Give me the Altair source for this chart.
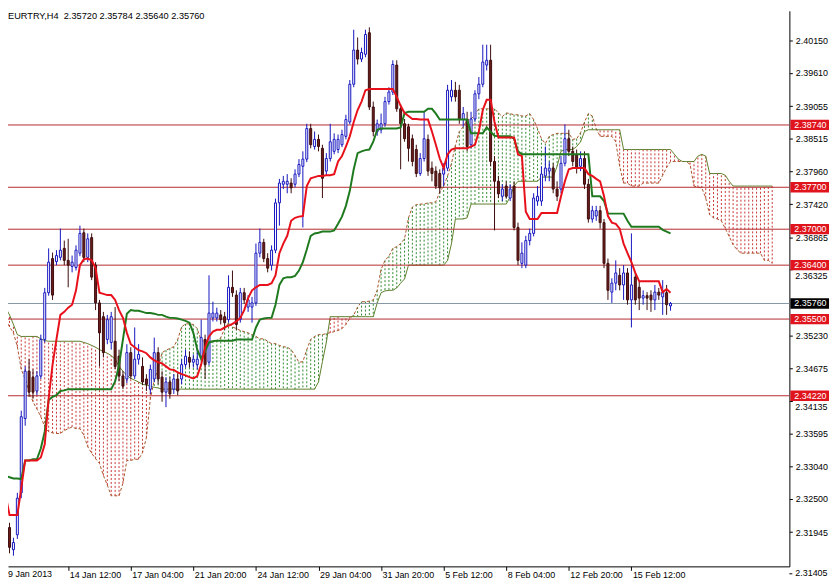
import altair as alt
import pandas as pd

# ---------------- data (EURTRY, H4) ----------------
bar_open = [
    2.3223, 2.3202, 2.3165, 2.3190, 2.3260, 2.3384, 2.3463, 2.3453, 2.3430, 2.3455,
    2.3516, 2.3594, 2.3651, 2.3646, 2.3653, 2.3668, 2.3648, 2.3638, 2.3636, 2.3660,
    2.3694, 2.3653, 2.3686, 2.3640, 2.3577, 2.3554, 2.3516, 2.3511, 2.3513, 2.3488,
    2.3455, 2.3450, 2.3494, 2.3455, 2.3483, 2.3471, 2.3450, 2.3433, 2.3450, 2.3494,
    2.3453, 2.3428, 2.3445, 2.3433, 2.3450, 2.3450, 2.3474, 2.3486, 2.3478, 2.3474,
    2.3488, 2.3516, 2.3478, 2.3552, 2.3552, 2.3557, 2.3554, 2.3549, 2.3603, 2.3590,
    2.3549, 2.3594, 2.3570, 2.3570, 2.3577, 2.3660, 2.3678, 2.3651, 2.3640, 2.3665,
    2.3744, 2.3775, 2.3775, 2.3777, 2.3775, 2.3792, 2.3805, 2.3817, 2.3868, 2.3838,
    2.3850, 2.3835, 2.3797, 2.3818, 2.3830, 2.3833, 2.3841, 2.3855, 2.3879, 2.3942,
    2.3999, 2.3984, 2.3992, 2.4028, 2.3904, 2.3863, 2.3866, 2.3876, 2.3913, 2.3929,
    2.3974, 2.3901, 2.3876, 2.3871, 2.3851, 2.3833, 2.3793, 2.3818, 2.3850, 2.3802,
    2.3797, 2.3793, 2.3792, 2.3802, 2.3921, 2.3932, 2.3932, 2.3883, 2.3883, 2.3841,
    2.3884, 2.3926, 2.3942, 2.3974, 2.3982, 2.3813, 2.3780, 2.3755, 2.3772, 2.3752,
    2.3772, 2.3703, 2.3643, 2.3640, 2.3681, 2.3693, 2.3747, 2.3747, 2.3789, 2.3797,
    2.3802, 2.3767, 2.3767, 2.3810, 2.3851, 2.3830, 2.3825, 2.3805, 2.3818, 2.3775,
    2.3717, 2.3722, 2.3731, 2.3711, 2.3643, 2.3595, 2.3610, 2.3623, 2.3607, 2.3627,
    2.3582, 2.3620, 2.3603, 2.3585, 2.3589, 2.3590, 2.3582, 2.3595, 2.3587, 2.3594,
    2.3572,
]
bar_high = [
    2.3235, 2.3210, 2.3185, 2.3260, 2.3397, 2.3471, 2.3483, 2.3466, 2.3463, 2.3524,
    2.3602, 2.3668, 2.3661, 2.3665, 2.3701, 2.3681, 2.3684, 2.3656, 2.3673, 2.3706,
    2.3701, 2.3693, 2.3693, 2.3645, 2.3582, 2.3562, 2.3557, 2.3562, 2.3570, 2.3499,
    2.3463, 2.3508, 2.3503, 2.3536, 2.3508, 2.3486, 2.3458, 2.3474, 2.3519, 2.3503,
    2.3463, 2.3453, 2.3453, 2.3458, 2.3461, 2.3483, 2.3499, 2.3496, 2.3491, 2.3499,
    2.3549, 2.3524, 2.3623, 2.3579, 2.3569, 2.3565, 2.3562, 2.3623, 2.3631, 2.3598,
    2.3602, 2.3602, 2.3590, 2.3587, 2.3676, 2.3701, 2.3684, 2.3660, 2.3673, 2.3751,
    2.3784, 2.3789, 2.3792, 2.3785, 2.3800, 2.3817, 2.3830, 2.3876, 2.3876, 2.3863,
    2.3858, 2.3841, 2.3827, 2.3876, 2.3860, 2.3858, 2.3866, 2.3891, 2.3949, 2.4033,
    2.4020, 2.4003, 2.4033, 2.4037, 2.3913, 2.3883, 2.3893, 2.3921, 2.3937, 2.3982,
    2.3982, 2.3909, 2.3884, 2.3876, 2.3858, 2.3841, 2.3827, 2.3896, 2.3858, 2.3813,
    2.3805, 2.3800, 2.3810, 2.3941, 2.3949, 2.3946, 2.3941, 2.3904, 2.3896, 2.3896,
    2.3932, 2.3954, 2.4008, 2.4008, 2.4008, 2.3822, 2.3789, 2.3775, 2.3780, 2.3775,
    2.3780, 2.3711, 2.3678, 2.3689, 2.3701, 2.3760, 2.3772, 2.3805, 2.3838, 2.3813,
    2.3810, 2.3780, 2.3822, 2.3875, 2.3866, 2.3838, 2.3833, 2.3830, 2.3830, 2.3784,
    2.3739, 2.3739, 2.3739, 2.3717, 2.3651, 2.3618, 2.3648, 2.3635, 2.3640, 2.3635,
    2.3693, 2.3628, 2.3612, 2.3598, 2.3595, 2.3598, 2.3607, 2.3602, 2.3615, 2.3607,
    2.35784,
]
bar_low = [
    2.3177, 2.3159, 2.3155, 2.3183, 2.3251, 2.3372, 2.3420, 2.3417, 2.3423, 2.3450,
    2.3511, 2.3589, 2.3582, 2.3640, 2.3648, 2.3640, 2.3603, 2.3628, 2.3631, 2.3655,
    2.3645, 2.3645, 2.3615, 2.3565, 2.3471, 2.3486, 2.3508, 2.3499, 2.3466, 2.3446,
    2.3433, 2.3443, 2.3450, 2.3450, 2.3474, 2.3440, 2.3430, 2.3425, 2.3445, 2.3441,
    2.3412, 2.3403, 2.3417, 2.3425, 2.3423, 2.3441, 2.3469, 2.3469, 2.3469, 2.3466,
    2.3483, 2.3450, 2.3473, 2.3546, 2.3546, 2.3541, 2.3532, 2.3544, 2.3587, 2.3532,
    2.3544, 2.3575, 2.3562, 2.3544, 2.3572, 2.3653, 2.3645, 2.3628, 2.3631, 2.3660,
    2.3706, 2.3767, 2.3760, 2.3760, 2.3770, 2.3787, 2.3703, 2.3812, 2.3835, 2.3833,
    2.3830, 2.3752, 2.3789, 2.3813, 2.3825, 2.3827, 2.3837, 2.3850, 2.3875, 2.3937,
    2.3975, 2.3979, 2.3987, 2.3899, 2.3855, 2.3856, 2.3860, 2.3871, 2.3908, 2.3924,
    2.3896, 2.3800, 2.3846, 2.3813, 2.3805, 2.3787, 2.3789, 2.3813, 2.3789, 2.3780,
    2.3767, 2.3760, 2.3772, 2.3797, 2.3913, 2.3913, 2.3876, 2.3871, 2.3830, 2.3835,
    2.3879, 2.3917, 2.3937, 2.3965, 2.3805, 2.3698, 2.3752, 2.3747, 2.3751, 2.3747,
    2.3698, 2.3640, 2.3635, 2.3635, 2.3673, 2.3688, 2.3739, 2.3739, 2.3780, 2.3780,
    2.3760, 2.3747, 2.3760, 2.3805, 2.3822, 2.3805, 2.3793, 2.3797, 2.3767, 2.3711,
    2.3711, 2.3714, 2.3701, 2.3635, 2.3582, 2.3577, 2.3598, 2.3598, 2.3582, 2.3574,
    2.3536, 2.3574, 2.3565, 2.3574, 2.3565, 2.3562, 2.3565, 2.3582, 2.3557, 2.3557,
    2.3564,
]
bar_close = [
    2.3185, 2.3169, 2.3177, 2.3251, 2.3387, 2.3463, 2.3428, 2.3428, 2.3455, 2.3516,
    2.3594, 2.3645, 2.3590, 2.3656, 2.3665, 2.3648, 2.3640, 2.3645, 2.3665, 2.3693,
    2.3653, 2.3684, 2.3620, 2.3577, 2.3527, 2.3494, 2.3549, 2.3554, 2.3471, 2.3455,
    2.3438, 2.3494, 2.3455, 2.3483, 2.3491, 2.3445, 2.3441, 2.3466, 2.3494, 2.3450,
    2.3428, 2.3445, 2.3425, 2.3450, 2.3430, 2.3474, 2.3488, 2.3478, 2.3483, 2.3483,
    2.3519, 2.3474, 2.3560, 2.3560, 2.3560, 2.3549, 2.3544, 2.3603, 2.3594, 2.3541,
    2.3594, 2.3582, 2.3582, 2.3577, 2.3660, 2.3678, 2.3651, 2.3635, 2.3665, 2.3744,
    2.3777, 2.3780, 2.3780, 2.3769, 2.3792, 2.3808, 2.3817, 2.3868, 2.3841, 2.3850,
    2.3838, 2.3785, 2.3818, 2.3846, 2.3850, 2.3850, 2.3858, 2.3883, 2.3942, 2.3999,
    2.3984, 2.3995, 2.4025, 2.3904, 2.3863, 2.3876, 2.3876, 2.3913, 2.3929, 2.3975,
    2.3901, 2.3876, 2.3851, 2.3835, 2.3813, 2.3793, 2.3818, 2.3851, 2.3797, 2.3793,
    2.3772, 2.3769, 2.3802, 2.3932, 2.3932, 2.3921, 2.3883, 2.3893, 2.3838, 2.3884,
    2.3926, 2.3942, 2.3979, 2.3982, 2.3813, 2.3780, 2.3759, 2.3767, 2.3755, 2.3767,
    2.3703, 2.3648, 2.3660, 2.3681, 2.3693, 2.3752, 2.3755, 2.3792, 2.3802, 2.3802,
    2.3767, 2.3755, 2.3810, 2.3851, 2.3830, 2.3813, 2.3802, 2.3818, 2.3775, 2.3717,
    2.3731, 2.3731, 2.3711, 2.3643, 2.3598, 2.3610, 2.3627, 2.3607, 2.3627, 2.3582,
    2.3607, 2.3582, 2.3585, 2.3589, 2.3585, 2.3582, 2.3595, 2.3590, 2.3595, 2.3574,
    2.3576,
]
tenkan = [
    2.3256, 2.3223, 2.3223, 2.3223, 2.3268, 2.3314, 2.3314, 2.3314, 2.3314, 2.3319,
    2.3341, 2.3417, 2.3474, 2.3516, 2.3557, 2.3562, 2.3569, 2.3574, 2.3598, 2.3640,
    2.3650, 2.3651, 2.3648, 2.3635, 2.3594, 2.3592, 2.3590, 2.3590, 2.3582, 2.3565,
    2.3552, 2.3527, 2.3508, 2.3503, 2.3498, 2.3496, 2.3493, 2.3486, 2.3481, 2.3478,
    2.3476, 2.3471, 2.3466, 2.3465, 2.3461, 2.3458, 2.3456, 2.3453, 2.3451, 2.3455,
    2.3474, 2.3503, 2.3521, 2.3529, 2.3532, 2.3532, 2.3536, 2.3539, 2.3542, 2.3546,
    2.3552, 2.3565, 2.3585, 2.3598, 2.3603, 2.3607, 2.3607, 2.3607, 2.3610, 2.3623,
    2.3660, 2.3676, 2.3689, 2.3714, 2.3719, 2.3721, 2.3722, 2.3772, 2.3785, 2.3787,
    2.3789, 2.3789, 2.3790, 2.3790, 2.3792, 2.3813, 2.3822, 2.3838, 2.3855, 2.3879,
    2.3899, 2.3913, 2.3932, 2.3934, 2.3934, 2.3934, 2.3934, 2.3934, 2.3934, 2.3934,
    2.3921, 2.3906, 2.3894, 2.3889, 2.3884, 2.3884, 2.3883, 2.3883, 2.3883, 2.3863,
    2.3841, 2.3818, 2.3802, 2.3825, 2.3833, 2.3835, 2.3835, 2.3835, 2.3835, 2.3838,
    2.3841, 2.3863, 2.3899, 2.3916, 2.3916, 2.3879, 2.3853, 2.3853, 2.3853, 2.3853,
    2.3853, 2.3825, 2.3822, 2.3729, 2.3717, 2.3717, 2.3717, 2.3727, 2.3727, 2.3727,
    2.3727, 2.3727, 2.3755, 2.3780, 2.3800, 2.3802, 2.3802, 2.3802, 2.3802, 2.3792,
    2.3789, 2.3784, 2.3780, 2.3755, 2.3722, 2.3711, 2.3709, 2.3701, 2.3676, 2.3660,
    2.3645, 2.3627, 2.3613, 2.3613, 2.3613, 2.3613, 2.3613, 2.3613, 2.3595, 2.3600,
    2.3594,
]
kijun = [
    2.3288, 2.3286, 2.3284, 2.3284, 2.3283, 2.3314, 2.3314, 2.3316, 2.3316, 2.3334,
    2.3362, 2.3415, 2.3420, 2.3423, 2.3430, 2.3431, 2.3433, 2.3433, 2.3433, 2.3433,
    2.3433, 2.3433, 2.3433, 2.3433, 2.3433, 2.3433, 2.3433, 2.3433, 2.3446, 2.3473,
    2.3516, 2.3559, 2.3565, 2.3564, 2.3564, 2.3562, 2.3560, 2.3560, 2.3559, 2.3557,
    2.3557, 2.3554, 2.3552, 2.3552, 2.3551, 2.3549, 2.3547, 2.3544, 2.3527, 2.3499,
    2.3483, 2.3496, 2.3511, 2.3513, 2.3514, 2.3514, 2.3514, 2.3514, 2.3514, 2.3516,
    2.3516, 2.3516, 2.3516, 2.3516, 2.3536, 2.3549, 2.3551, 2.3552, 2.3552, 2.3574,
    2.3607, 2.3618, 2.3620, 2.3620, 2.3622, 2.3631, 2.3645, 2.3666, 2.3689, 2.3693,
    2.3694, 2.3696, 2.3696, 2.3696, 2.3698, 2.3709, 2.3721, 2.3739, 2.3764, 2.3800,
    2.3827, 2.3830, 2.3832, 2.3833, 2.3846, 2.3866, 2.3868, 2.3868, 2.3868, 2.3868,
    2.3868, 2.3870, 2.3894, 2.3896, 2.3896, 2.3896, 2.3896, 2.3896, 2.3901, 2.3901,
    2.3893, 2.3883, 2.3883, 2.3883, 2.3883, 2.3883, 2.3883, 2.3883, 2.3883, 2.3860,
    2.3860, 2.3860, 2.3860, 2.3870, 2.3863, 2.3856, 2.3855, 2.3855, 2.3855, 2.3855,
    2.3851, 2.3830, 2.3825, 2.3825, 2.3825, 2.3825, 2.3825, 2.3825, 2.3825, 2.3825,
    2.3825, 2.3825, 2.3825, 2.3825, 2.3825, 2.3825, 2.3825, 2.3825, 2.3825, 2.3825,
    2.3755, 2.3755, 2.3755, 2.3747, 2.3726, 2.3726, 2.3726, 2.3726, 2.3726, 2.3714,
    2.3704, 2.3704, 2.3704, 2.3704, 2.3704, 2.3704, 2.3704, 2.3704, 2.3699, 2.3696,
    2.3693,
]
span_a = [
    2.3549, 2.3537, 2.3527, 2.3504, 2.3466, 2.3450, 2.3428, 2.3412, 2.3400, 2.3387,
    2.3370, 2.3362, 2.3360, 2.3359, 2.3359, 2.3364, 2.3367, 2.3370, 2.3367, 2.3367,
    2.3356, 2.3337, 2.3326, 2.3317, 2.3309, 2.3289, 2.3273, 2.3255, 2.3255, 2.3255,
    2.3276, 2.3314, 2.3314, 2.3316, 2.3316, 2.3327, 2.3352, 2.3417, 2.3448, 2.3469,
    2.3494, 2.3498, 2.3501, 2.3504, 2.3516, 2.3537, 2.3542, 2.3542, 2.3541, 2.3534,
    2.3514, 2.3513, 2.3513, 2.3513, 2.3514, 2.3519, 2.3534, 2.3544, 2.3537, 2.3534,
    2.3531, 2.3529, 2.3527, 2.3524, 2.3521, 2.3517, 2.3517, 2.3513, 2.3509, 2.3509,
    2.3506, 2.3504, 2.3503, 2.3499, 2.3489, 2.3478, 2.3479, 2.3499, 2.3516, 2.3521,
    2.3524, 2.3524, 2.3526, 2.3527, 2.3529, 2.3531, 2.3534, 2.3541, 2.3551, 2.3557,
    2.3570, 2.3579, 2.3579, 2.3580, 2.3582, 2.3598, 2.3633, 2.3648, 2.3655, 2.3668,
    2.3671, 2.3676, 2.3684, 2.3719, 2.3737, 2.3741, 2.3742, 2.3742, 2.3744, 2.3744,
    2.3746, 2.3762, 2.3772, 2.3789, 2.3810, 2.3840, 2.3863, 2.3871, 2.3883, 2.3884,
    2.3891, 2.3901, 2.3901, 2.3901, 2.3901, 2.3901, 2.3894, 2.3888, 2.3894, 2.3893,
    2.3891, 2.3891, 2.3889, 2.3889, 2.3893, 2.3883, 2.3868, 2.3851, 2.3843, 2.3855,
    2.3858, 2.3860, 2.3860, 2.3860, 2.3860, 2.3850, 2.3851, 2.3861, 2.3879, 2.3893,
    2.3889, 2.3868, 2.3855, 2.3855, 2.3855, 2.3855, 2.3846, 2.3805, 2.3777, 2.3777,
    2.3772, 2.3772, 2.3772, 2.3777, 2.3777, 2.3777, 2.3777, 2.3777, 2.3790, 2.3803,
    2.3813, 2.3813, 2.3813, 2.3813, 2.3813, 2.3808, 2.3772, 2.3770, 2.3769, 2.3752,
    2.3724, 2.3719, 2.3717, 2.3714, 2.3701, 2.3688, 2.3674, 2.3666, 2.3660, 2.3660,
    2.3660, 2.3660, 2.3660, 2.3660, 2.3648, 2.3648, 2.3643,
]
span_b = [
    2.3569, 2.3557, 2.3541, 2.3524, 2.3521, 2.3521, 2.3521, 2.3521, 2.3521, 2.3517,
    2.3514, 2.3513, 2.3513, 2.3513, 2.3513, 2.3513, 2.3513, 2.3513, 2.3513, 2.3513,
    2.3511, 2.3509, 2.3506, 2.3503, 2.3499, 2.3496, 2.3493, 2.3489, 2.3483, 2.3471,
    2.3463, 2.3456, 2.3451, 2.3448, 2.3445, 2.3441, 2.3440, 2.3438, 2.3436, 2.3435,
    2.3433, 2.3433, 2.3433, 2.3433, 2.3433, 2.3433, 2.3433, 2.3433, 2.3433, 2.3433,
    2.3433, 2.3433, 2.3433, 2.3433, 2.3433, 2.3433, 2.3433, 2.3433, 2.3433, 2.3433,
    2.3433, 2.3433, 2.3433, 2.3433, 2.3433, 2.3433, 2.3433, 2.3433, 2.3433, 2.3433,
    2.3433, 2.3433, 2.3433, 2.3433, 2.3433, 2.3433, 2.3433, 2.3433, 2.3433, 2.3433,
    2.3445, 2.3479, 2.3511, 2.3554, 2.3554, 2.3554, 2.3554, 2.3554, 2.3554, 2.3554,
    2.3554, 2.3554, 2.3554, 2.3554, 2.3554, 2.3577, 2.3594, 2.3597, 2.3598, 2.3598,
    2.3602, 2.3610, 2.3617, 2.3640, 2.3640, 2.3640, 2.3640, 2.3640, 2.3640, 2.3640,
    2.3640, 2.3640, 2.3640, 2.3648, 2.3676, 2.3717, 2.3717, 2.3717, 2.3719, 2.3742,
    2.3742, 2.3742, 2.3742, 2.3742, 2.3742, 2.3742, 2.3742, 2.3742, 2.3742, 2.3754,
    2.3772, 2.3780, 2.3780, 2.3780, 2.3780, 2.3780, 2.3780, 2.3787, 2.3787, 2.3787,
    2.3787, 2.3805, 2.3830, 2.3833, 2.3833, 2.3833, 2.3838, 2.3846, 2.3863, 2.3866,
    2.3866, 2.3866, 2.3866, 2.3866, 2.3866, 2.3866, 2.3866, 2.3866, 2.3833, 2.3833,
    2.3833, 2.3833, 2.3833, 2.3833, 2.3833, 2.3833, 2.3833, 2.3833, 2.3833, 2.3833,
    2.3833, 2.3825, 2.3817, 2.3813, 2.3813, 2.3813, 2.3813, 2.3822, 2.3825, 2.3822,
    2.3793, 2.3793, 2.3793, 2.3793, 2.3790, 2.3780, 2.3772, 2.3772, 2.3772, 2.3772,
    2.3772, 2.3772, 2.3772, 2.3772, 2.3772, 2.3772, 2.3772,
]

level_prices = [2.38740, 2.37700, 2.37000, 2.36400, 2.35500, 2.34220]
current_price = 2.35760
price_ticks = [2.40150, 2.39610, 2.39055, 2.38515, 2.37960, 2.37420, 2.36865,
               2.36325, 2.35230, 2.34675, 2.34135, 2.33595, 2.33040,
               2.32500, 2.31945]
tucked_ticks = [2.36325, 2.34135]          # labels sitting right under a level box
bottom_price_label = "2.31405"
time_tick_bars = [16, 32, 48, 64, 80, 96, 112, 128, 144, 160]
time_tick_text = ["14 Jan 12:00", "17 Jan 04:00", "21 Jan 20:00", "24 Jan 12:00",
                  "29 Jan 04:00", "31 Jan 20:00", "5 Feb 12:00", "8 Feb 04:00",
                  "12 Feb 20:00", "15 Feb 12:00"]
first_time_label = "9 Jan 2013"
header_text = "EURTRY,H4\u00a0 2.35720 2.35784 2.35640 2.35760"

# ---------------- styling ----------------
FONT = "Liberation Sans"
W, H = 789, 561
UP = "#1414c0"
DOWN_FILL = "#6e1d1d"
DOWN_EDGE = "#3d0c0c"
TENKAN_C = "#e8101a"
KIJUN_C = "#1f7a1f"
HATCH_RED = "#c83434"
HATCH_GREEN = "#2f8a2f"
SPAN_A_C = "#a8552a"
SPAN_B_C = "#5f7f2a"
LEVEL_C = "#b42a2f"
LABEL_RED = "#e0141c"

candles = pd.DataFrame({"bar": list(range(len(bar_close))), "open": bar_open,
                        "high": bar_high, "low": bar_low, "close": bar_close})
lines = pd.DataFrame({"bar": list(range(len(tenkan))), "tenkan": tenkan, "kijun": kijun})
cloud = pd.DataFrame({"bar": list(range(len(span_a))), "a": span_a, "b": span_b})
levels = pd.DataFrame({"price": level_prices})
boxes = pd.DataFrame({"price": level_prices + [current_price],
                      "kind": ["level"] * len(level_prices) + ["current"]})
boxes["label"] = boxes["price"].map(lambda v: f"{v:.5f}")
tucked = pd.DataFrame({"price": tucked_ticks})
tucked["label"] = tucked["price"].map(lambda v: f"{v:.5f}")

xs = alt.Scale(domain=[1.875, 199.125], nice=False, zero=False)
ys = alt.Scale(domain=[2.313719, 2.406461], nice=False, zero=False)

label_expr = "''"
for v, t in reversed(list(zip(time_tick_bars, time_tick_text))):
    label_expr = f"datum.value == {v} ? '{t}' : ({label_expr})"

hide_expr = " || ".join(f"abs(datum.value - {v}) < 0.000001" for v in tucked_ticks)
y_label_expr = f"({hide_expr}) ? '' : format(datum.value, '.5f')"

x_axis = alt.Axis(values=time_tick_bars, labelExpr=label_expr, labelAlign="left",
                  labelOffset=1, tickSize=4, labelPadding=0, grid=False, title="",
                  domainColor="black", tickColor="black", labelColor="black",
                  labelFont=FONT, labelFontSize=9, labelOverlap=False, labelFlush=False)
y_axis = alt.Axis(orient="right", values=price_ticks, labelExpr=y_label_expr, tickSize=3,
                  labelPadding=3, grid=False, title="", domainColor="black",
                  tickColor="black", labelColor="black", labelFont=FONT,
                  labelFontSize=9, labelOverlap=False)


def X(field):
    return alt.X(field, type="quantitative", scale=xs, axis=x_axis)


def Y(field):
    return alt.Y(field, type="quantitative", scale=ys, axis=y_axis)


hatch = alt.Chart(cloud).mark_rule(strokeWidth=1, strokeDash=[2, 2], clip=True).encode(
    x=X("bar"), y=Y("a"), y2="b",
    color=alt.condition("datum.b > datum.a", alt.value(HATCH_RED), alt.value(HATCH_GREEN)),
)
edge_a = alt.Chart(cloud).mark_line(strokeWidth=1, strokeDash=[3, 2], color=SPAN_A_C, clip=True).encode(
    x=X("bar"), y=Y("a"))
edge_b = alt.Chart(cloud).mark_line(strokeWidth=1, color=SPAN_B_C, clip=True).encode(
    x=X("bar"), y=Y("b"))

level_rules = alt.Chart(levels).mark_rule(strokeWidth=1, color=LEVEL_C).encode(y=Y("price"))
current_rule = alt.Chart(pd.DataFrame({"price": [current_price]})).mark_rule(
    strokeWidth=1, color="#8796a3").encode(y=Y("price"))

is_up = "datum.close >= datum.open"
wicks = alt.Chart(candles).mark_rule(strokeWidth=1, clip=True).encode(
    x=X("bar"), y=Y("low"), y2="high",
    color=alt.condition(is_up, alt.value(UP), alt.value(DOWN_EDGE)),
)
bodies = alt.Chart(candles).mark_bar(size=2, strokeWidth=1, clip=True).encode(
    x=X("bar"), y=Y("open"), y2="close",
    fill=alt.condition(is_up, alt.value("white"), alt.value(DOWN_FILL)),
    stroke=alt.condition(is_up, alt.value(UP), alt.value(DOWN_EDGE)),
)

kijun_line = alt.Chart(lines).mark_line(strokeWidth=2, color=KIJUN_C, clip=True).encode(
    x=X("bar"), y=Y("kijun"))
tenkan_line = alt.Chart(lines).mark_line(strokeWidth=2, color=TENKAN_C, clip=True).encode(
    x=X("bar"), y=Y("tenkan"))

box_base = alt.Chart(boxes).transform_calculate(
    lo="datum.price - 0.00086", hi="datum.price + 0.00086")
label_boxes = box_base.mark_rect(clip=False).encode(
    x=alt.value(W + 1), x2=alt.value(W + 40), y=Y("lo"), y2="hi",
    fill=alt.condition("datum.kind == 'current'", alt.value("black"), alt.value(LABEL_RED)),
)
label_text = box_base.mark_text(align="left", baseline="middle", font=FONT, fontSize=9,
                                color="white", clip=False).encode(
    x=alt.value(W + 5), y=Y("price"), text="label:N")

tucked_text = alt.Chart(tucked).mark_text(align="left", baseline="middle", font=FONT,
                                          fontSize=9, color="black", dy=6, clip=False).encode(
    x=alt.value(W + 6), y=Y("price"), text="label:N")

header = alt.Chart(pd.DataFrame({"t": [header_text]})).mark_text(
    align="left", baseline="top", font=FONT, fontSize=9.3, color="black").encode(
    x=alt.value(0), y=alt.value(1), text="t:N")
first_label = alt.Chart(pd.DataFrame({"t": [first_time_label]})).mark_text(
    align="left", baseline="top", font=FONT, fontSize=9, color="black").encode(
    x=alt.value(0), y=alt.value(H + 4), text="t:N")
bottom_label = alt.Chart(pd.DataFrame({"t": [bottom_price_label]})).mark_text(
    align="left", baseline="middle", font=FONT, fontSize=9, color="black").encode(
    x=alt.value(W + 6), y=alt.value(H + 7), text="t:N")
bottom_tick = alt.Chart(pd.DataFrame({"t": [bottom_price_label]})).mark_rule(
    color="black", strokeWidth=1).encode(
    x=alt.value(W), x2=alt.value(W + 3), y=alt.value(H + 7.5))

chart = alt.layer(
    hatch, edge_a, edge_b, level_rules, current_rule, wicks, bodies,
    kijun_line, tenkan_line, tucked_text, label_boxes, label_text, header, first_label,
    bottom_label, bottom_tick,
).properties(
    width=W, height=H,
    padding={"left": 0, "top": 0, "right": 40, "bottom": 16},
    autosize=alt.AutoSizeParams(type="none"),
    background="white",
).configure_view(stroke=None)

chart.save("out.html", embed_options={"renderer": "svg", "actions": False})
